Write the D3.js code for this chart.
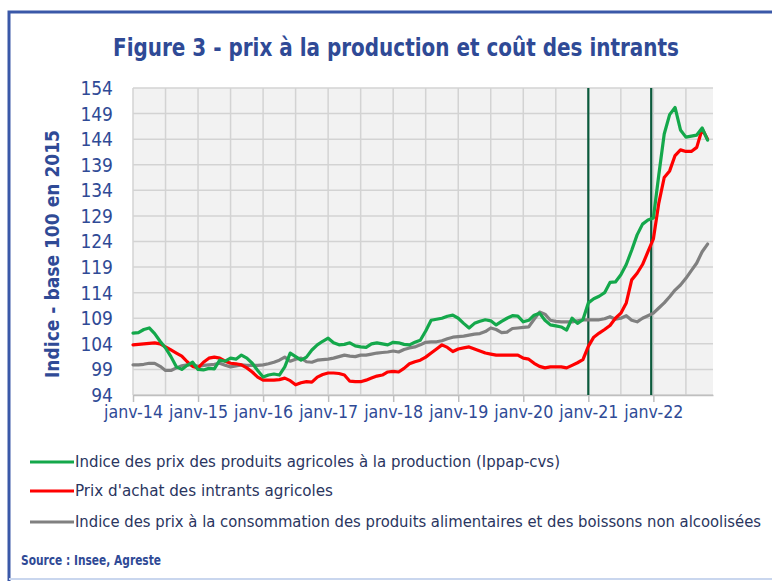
<!DOCTYPE html>
<html lang="fr">
<head>
<meta charset="UTF-8">
<title>Figure 3 - prix à la production et coût des intrants</title>
<script src="https://d3js.org/d3.v7.min.js"></script>
<style>
  html, body { margin: 0; padding: 0; background: #fff; }
  svg { display: block; }
  text { font-family: "Liberation Sans Narrow", "DejaVu Sans Condensed", "Liberation Sans", sans-serif; }
</style>
</head>
<body>
<svg id="chart" width="772" height="581"></svg>
<script>
// Monthly values, janv-14 (index 0) to nov-22 (index 106)
const ippap = [
  106.1, 106.2, 106.8, 107.1, 106.0, 104.5, 103.2, 101.5, 99.5, 99.0, 99.8, 100.4,
  99.0, 98.9, 99.2, 99.1, 100.8, 100.6, 101.2, 101.0, 101.8, 101.2, 100.2, 98.8,
  97.5, 97.9, 98.1, 97.9, 99.5, 102.2, 101.5, 100.8, 101.4, 102.8, 103.8, 104.5,
  105.1, 104.2, 103.8, 103.9, 104.2, 103.6, 103.4, 103.3, 104.0, 104.2, 104.0, 103.8,
  104.3, 104.2, 103.9, 103.8, 104.3, 104.7, 106.5, 108.6, 108.8, 109.0, 109.4, 109.6,
  109.0, 108.0, 107.1, 108.0, 108.4, 108.7, 108.5, 107.7, 108.4, 109.0, 109.5, 109.4,
  108.3, 108.6, 109.6, 110.0, 108.6, 107.7, 107.5, 107.3, 106.7, 109.0, 108.0, 108.7,
  112.0, 112.8, 113.3, 114.0, 116.0, 116.1, 117.5, 119.5, 122.3, 125.3, 127.4, 128.2,
  128.6, 137.0, 145.0, 148.8, 150.2, 145.8, 144.4, 144.6, 144.8, 146.2, 143.8
];
const intrants = [
  103.8, 103.9, 104.0, 104.1, 104.2, 104.0, 103.4, 102.8, 102.2, 101.6, 100.5, 99.6,
  99.3, 100.4, 101.2, 101.4, 101.2, 100.6, 100.2, 100.1, 99.9, 99.3, 98.5, 97.5,
  96.9, 96.9, 96.9, 97.0, 97.3, 96.8, 96.0, 96.4, 96.6, 96.5, 97.5, 98.0,
  98.3, 98.3, 98.2, 97.9, 96.7, 96.6, 96.6, 96.9, 97.3, 97.7, 97.9, 98.5,
  98.6, 98.5, 99.2, 100.1, 100.5, 100.8, 101.4, 102.2, 103.0, 103.8, 103.3, 102.5,
  103.0, 103.2, 103.4, 103.0, 102.6, 102.2, 102.0, 101.8, 101.8, 101.8, 101.8, 101.8,
  101.2, 101.0, 100.2, 99.6, 99.3, 99.5, 99.5, 99.5, 99.3, 99.8, 100.3, 100.9,
  103.5, 105.3, 106.1, 106.8, 107.6, 109.0, 110.0, 112.0, 116.5, 117.8, 119.5, 122.0,
  124.5, 131.5, 136.5, 137.8, 140.8, 141.9, 141.6, 141.6, 142.4, 146.0, 144.0
];
const ipcAlim = [
  99.9, 99.9, 100.0, 100.2, 100.2, 99.6, 98.8, 98.8, 99.3, 99.7, 99.9, 99.9,
  99.6, 99.8, 99.9, 100.0, 100.2, 99.8, 99.5, 99.7, 99.9, 99.8, 99.8, 99.8,
  99.9, 100.1, 100.4, 100.8, 101.4, 100.6, 101.0, 101.2, 100.5, 100.4, 100.8, 100.9,
  101.0, 101.2, 101.5, 101.8, 101.6, 101.5, 101.8, 101.8, 102.0, 102.2, 102.3, 102.4,
  102.6, 102.4, 102.9, 103.2, 103.4, 103.8, 104.3, 104.4, 104.4, 104.6, 105.0, 105.3,
  105.4, 105.5, 105.7, 105.9, 106.0, 106.4, 107.1, 106.8, 106.2, 106.3, 107.0, 107.1,
  107.2, 107.3, 108.8, 110.2, 109.8, 108.6, 108.4, 108.3, 108.3, 108.3, 108.5, 108.7,
  108.7, 108.7, 108.7, 108.9, 109.3, 108.8, 109.0, 109.5, 108.6, 108.3, 109.0, 109.5,
  110.0, 111.0, 112.0, 113.2, 114.5, 115.5, 116.8, 118.3, 119.8, 122.0, 123.5
];
const xLabels = ["janv-14", "janv-15", "janv-16", "janv-17", "janv-18", "janv-19", "janv-20", "janv-21", "janv-22"];
const yTicks = [94, 99, 104, 109, 114, 119, 124, 129, 134, 139, 144, 149, 154];
const markerMonths = [84, 95.6];   // vertical reference lines
const seriesNames = [
  "Indice des prix des produits agricoles à la production (Ippap-cvs)",
  "Prix d'achat des intrants agricoles",
  "Indice des prix à la consommation des produits alimentaires et des boissons non alcoolisées"
];
const seriesColors = ["#14a84b", "#ff0000", "#808080"];

const svg = d3.select("#chart");
const blue = "#2f4a96";
const plotL = 133, plotR = 713, plotT = 88, plotB = 395;

const x = d3.scaleLinear().domain([0, 107]).range([plotL, plotR]);
const y = d3.scaleLinear().domain([94, 154]).range([plotB, plotT]);

// frame
svg.append("path")
  .attr("d", `M9,581 V12 H772`)
  .attr("fill", "none").attr("stroke", "#3a58a8").attr("stroke-width", 3);
svg.append("line")
  .attr("x1", 9).attr("x2", 772).attr("y1", 579).attr("y2", 579)
  .attr("stroke", "#c9d6ee").attr("stroke-width", 2);

// title
svg.append("text")
  .attr("x", 396).attr("y", 56)
  .attr("text-anchor", "middle")
  .attr("font-size", 25).attr("font-weight", "bold")
  .attr("fill", blue)
  .attr("textLength", 566).attr("lengthAdjust", "spacingAndGlyphs")
  .text("Figure 3 - prix à la production et coût des intrants");

// plot background
svg.append("rect")
  .attr("x", plotL).attr("y", plotT)
  .attr("width", plotR - plotL).attr("height", plotB - plotT)
  .attr("fill", "#f2f2f2");

// grid
const grid = svg.append("g").attr("stroke", "#d3d3d3").attr("stroke-width", 1.5);
grid.selectAll(".h").data(yTicks).enter().append("line")
  .attr("x1", plotL).attr("x2", plotR)
  .attr("y1", d => y(d)).attr("y2", d => y(d));
grid.selectAll(".v").data(d3.range(0, 107, 6)).enter().append("line")
  .attr("x1", d => x(d)).attr("x2", d => x(d))
  .attr("y1", plotT).attr("y2", plotB);

// x axis
const xAxis = d3.axisBottom(x)
  .tickValues(d3.range(0, 97, 12))
  .tickSize(7).tickSizeOuter(0)
  .tickFormat((d, i) => xLabels[i]);
const gx = svg.append("g").attr("transform", `translate(0,${plotB})`).call(xAxis);
gx.select(".domain").attr("stroke", "#bfbfbf").attr("stroke-width", 1.5);
gx.selectAll(".tick line").attr("stroke", "#bfbfbf").attr("stroke-width", 1.5);
gx.selectAll(".tick text")
  .attr("y", 23).attr("dy", 0)
  .attr("font-size", 18).attr("fill", blue)
  .attr("textLength", 59).attr("lengthAdjust", "spacingAndGlyphs");

// y axis
const yAxis = d3.axisLeft(y).tickValues(yTicks).tickSize(0);
const gy = svg.append("g").attr("transform", `translate(${plotL - 20},0)`).call(yAxis);
gy.select(".domain").remove();
gy.selectAll(".tick text")
  .attr("x", 0).attr("dy", "0.34em")
  .attr("font-size", 19).attr("fill", blue);

svg.append("text")
  .attr("transform", `translate(59,254) rotate(-90)`)
  .attr("text-anchor", "middle")
  .attr("font-size", 20).attr("font-weight", "bold")
  .attr("fill", blue)
  .attr("textLength", 248).attr("lengthAdjust", "spacingAndGlyphs")
  .text("Indice - base 100 en 2015");

// vertical marker lines
svg.selectAll(".marker").data(markerMonths).enter().append("line")
  .attr("x1", d => x(d)).attr("x2", d => x(d))
  .attr("y1", plotT).attr("y2", plotB)
  .attr("stroke", "#0b5a3c").attr("stroke-width", 2.2);

// series
const line = d3.line().x((d, i) => x(i)).y(d => y(d));
const series = [ippap, intrants, ipcAlim];
[2, 1, 0].forEach(k => {
  svg.append("path")
    .datum(series[k])
    .attr("d", line)
    .attr("fill", "none")
    .attr("stroke", seriesColors[k])
    .attr("stroke-width", 3.2)
    .attr("stroke-linejoin", "round")
    .attr("stroke-linecap", "round");
});

// legend
const legendY = [462, 491, 522];
const legendW = [485, 258, 686];
const lg = svg.selectAll(".legend").data(seriesNames).enter().append("g")
  .attr("transform", (d, i) => `translate(0,${legendY[i]})`);
lg.append("line")
  .attr("x1", 30).attr("x2", 74).attr("y1", 0).attr("y2", 0)
  .attr("stroke", (d, i) => seriesColors[i]).attr("stroke-width", 3.2);
lg.append("text")
  .attr("x", 75).attr("y", 0).attr("dy", "0.35em")
  .attr("font-size", 15).attr("fill", "#2a3560")
  .attr("textLength", (d, i) => legendW[i]).attr("lengthAdjust", "spacingAndGlyphs")
  .text(d => d);

// source
svg.append("text")
  .attr("x", 21).attr("y", 565)
  .attr("font-size", 14).attr("font-weight", "bold")
  .attr("fill", blue)
  .attr("textLength", 140).attr("lengthAdjust", "spacingAndGlyphs")
  .text("Source : Insee, Agreste");
</script>
</body>
</html>
